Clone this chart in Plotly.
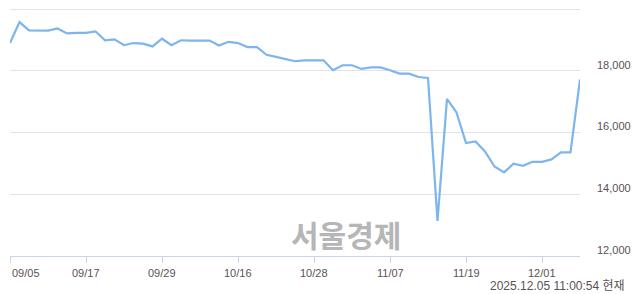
import plotly.graph_objects as go

dates = [
    "09/05", "09/08", "09/09", "09/10", "09/11", "09/12", "09/15", "09/16", "09/17", "09/18",
    "09/19", "09/22", "09/23", "09/24", "09/25", "09/26", "09/29", "09/30", "10/01", "10/02",
    "10/10", "10/13", "10/14", "10/15", "10/16", "10/17", "10/20", "10/21", "10/22", "10/23",
    "10/24", "10/27", "10/28", "10/29", "10/30", "10/31", "11/03", "11/04", "11/05", "11/06",
    "11/07", "11/10", "11/11", "11/12", "11/13", "11/14", "11/17", "11/18", "11/19", "11/20",
    "11/21", "11/24", "11/25", "11/26", "11/27", "11/28", "12/01", "12/02", "12/03", "12/04",
    "12/05",
]
prices = [
    18900, 19580, 19310, 19300, 19300, 19370, 19210, 19230, 19230, 19280,
    18990, 19020, 18830, 18900, 18880, 18790, 19040, 18830, 18990, 18980,
    18980, 18980, 18820, 18940, 18900, 18770, 18770, 18520, 18450, 18380,
    18310, 18340, 18330, 18340, 18020, 18180, 18180, 18060, 18110, 18110,
    18020, 17910, 17910, 17800, 17770, 13140, 17090, 16650, 15660, 15710,
    15390, 14900, 14710, 14990, 14920, 15050, 15050, 15130, 15360, 15360,
    17720,
]
x_tick_labels = ["09/05", "09/17", "09/29", "10/16", "10/28", "11/07", "11/19", "12/01"]
y_tick_vals = [12000, 14000, 16000, 18000, 20000]
y_tick_text = ["12,000", "14,000", "16,000", "18,000", ""]
timestamp = "2025.12.05 11:00:54 현재"
watermark = "서울경제"

fig = go.Figure()
fig.add_trace(go.Scatter(
    x=dates, y=prices, mode="lines",
    line=dict(color="#7db5ec", width=2.2),
    hoverinfo="skip",
))

annotations = []
for i, lab in enumerate(x_tick_labels):
    annotations.append(dict(
        x=lab, y=0, xref="x", yref="paper",
        text=lab, showarrow=False,
        xanchor="left" if i == 0 else "center", yanchor="top",
        yshift=-9,
        font=dict(family="Liberation Sans, Arial, sans-serif", size=11, color="#5a5254"),
    ))
annotations.append(dict(
    x=1, y=0, xref="paper", yref="paper", text=timestamp, showarrow=False,
    xanchor="right", yanchor="middle", xshift=47, yshift=-30,
    font=dict(family="Liberation Sans, Noto Sans CJK KR, sans-serif", size=12, color="#5a5254"),
))
annotations.append(dict(
    x=(345.5 - 10) / 570, y=(256 - 233.5) / 250, xref="paper", yref="paper",
    text="<b>" + watermark + "</b>", showarrow=False,
    xanchor="center", yanchor="middle",
    font=dict(family="Noto Sans CJK KR", size=30, color="#b6b6b6"),
))

fig.update_layout(
    width=640, height=294,
    margin=dict(l=10, r=60, t=6, b=38),
    paper_bgcolor="white", plot_bgcolor="white",
    showlegend=False,
    annotations=annotations,
    xaxis=dict(
        type="category", range=[0, len(dates) - 1],
        tickmode="array", tickvals=x_tick_labels, showticklabels=False,
        ticks="outside", ticklen=6, tickcolor="#c8d4ec",
        showline=True, linecolor="#c8d4ec", linewidth=1,
        showgrid=False, zeroline=False, fixedrange=True,
    ),
    yaxis=dict(
        side="right", range=[12000, 20100],
        tickmode="array", tickvals=y_tick_vals, ticktext=y_tick_text,
        showgrid=True, gridcolor="#e3e3e3", gridwidth=1,
        zeroline=False, showline=False, ticks="",
        ticklabelstandoff=16, ticklabelshift=-6,
        tickfont=dict(family="Liberation Sans, Arial, sans-serif", size=11, color="#5a5254"),
        fixedrange=True,
    ),
)

fig.write_html("out.html")
